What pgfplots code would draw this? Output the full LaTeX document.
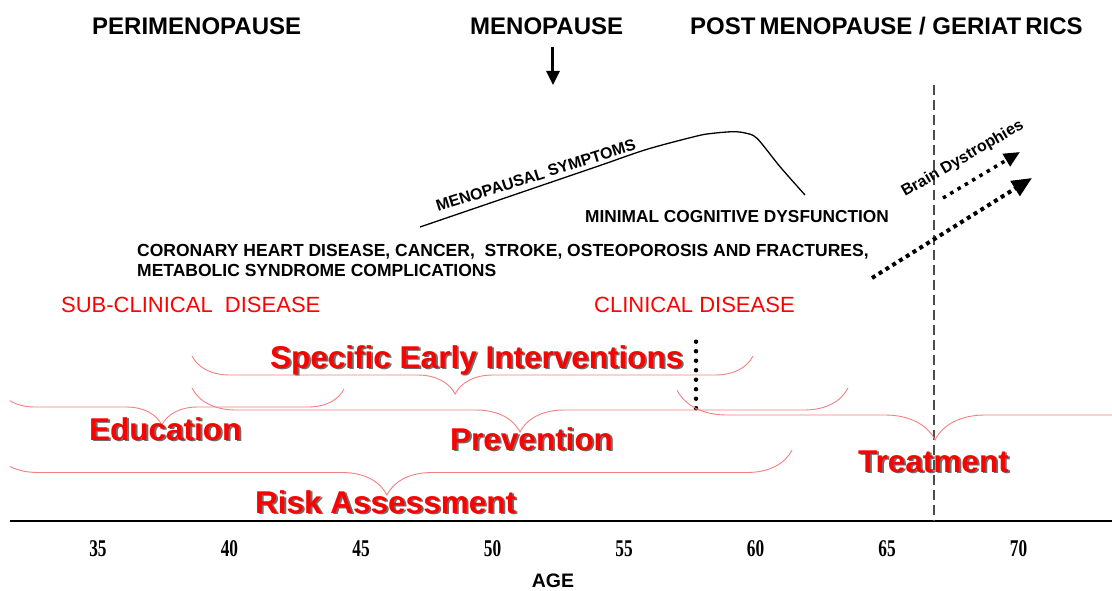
\documentclass[border=0pt]{standalone}
\usepackage{fontspec}
\setmainfont{Liberation Sans}
\newfontfamily\tickfont{Liberation Serif}[FakeStretch=0.72]
\usepackage{pgfplots}
\pgfplotsset{compat=1.18}
\usetikzlibrary{arrows.meta,decorations.pathreplacing}
\definecolor{bracered}{RGB}{244,128,128}
\definecolor{shadowgray}{RGB}{110,110,110}
\newcommand{\bigred}[3]{%
  \node[anchor=base west, inner sep=0pt, text=shadowgray, font=\bfseries\fontsize{31.5}{34}\selectfont, xshift=1.8pt, yshift=-1.8pt] at (axis cs:#1,#2) {#3};
  \node[anchor=base west, inner sep=0pt, text=red, font=\bfseries\fontsize{31.5}{34}\selectfont] at (axis cs:#1,#2) {#3};}
\begin{document}
\begin{tikzpicture}
\begin{axis}[
  scale only axis, width=1102pt, height=521pt,
  xmin=31.654, xmax=73.555, ymin=0, ymax=521,
  axis x line=bottom, axis y line=none,
  x axis line style={-, line width=1.4pt, black},
  xtick={35,40,45,50,55,60,65,70},
  xticklabels={35,40,45,50,55,60,65,70},
  major tick length=0pt,
  xticklabel style={font=\tickfont\bfseries\fontsize{24}{24}\selectfont, anchor=base, yshift=-35pt, inner sep=0pt},
  ytick=\empty,
  xlabel={AGE},
  xlabel style={at={(axis description cs:0.4927,0)}, anchor=base, yshift=-66pt, inner sep=0pt, font=\bfseries\fontsize{19.5}{20}\selectfont},
  clip=true,
]
\coordinate (BL) at (axis cs:31.274,-69);
\coordinate (TR) at (axis cs:73.555,521);

% phase headings
\node[anchor=base west, inner sep=0pt, font=\bfseries\fontsize{24}{26}\selectfont] at (axis cs:34.772,486.5) {PERIMENOPAUSE};
\node[anchor=base west, inner sep=0pt, font=\bfseries\fontsize{24}{26}\selectfont] at (axis cs:49.144,486.5) {MENOPAUSE};
\node[anchor=base west, inner sep=0pt, font=\bfseries\fontsize{24}{26}\selectfont] at (axis cs:57.510,486.5) {POST\kern4pt MENOPAUSE / GERIAT\kern4pt RICS};
\addplot[black, line width=3pt, -{Triangle[length=14pt,width=13pt]}] coordinates {(52.300,474) (52.300,436)};

% dashed vertical line
\addplot[black!70, line width=1.3pt, dash pattern=on 10pt off 5pt] coordinates {(66.787,436) (66.787,0)};

% menopausal symptoms curve
\addplot[black, line width=1.3pt, smooth, tension=0.5] coordinates {
  (47.243,294) (49.525,314.5) (51.806,335) (54.087,355.5) (55.875,371.7)
  (57.776,385) (58.384,387.7) (59.144,389.3) (59.601,388) (60.057,382.7)
  (60.932,354.3) (61.882,326)};
\node[anchor=base west, inner sep=0pt, rotate=17.5, font=\bfseries\fontsize{16}{18}\selectfont] at (axis cs:47.928,309) {MENOPAUSAL SYMPTOMS};

\node[anchor=base west, inner sep=0pt, font=\bfseries\fontsize{17.3}{19}\selectfont] at (axis cs:53.517,298.7) {MINIMAL COGNITIVE DYSFUNCTION};
\node[anchor=base west, inner sep=0pt, font=\bfseries\fontsize{17.5}{19}\selectfont] at (axis cs:36.483,265) {CORONARY HEART DISEASE, CANCER,\ \ STROKE, OSTEOPOROSIS AND FRACTURES,};
\node[anchor=base west, inner sep=0pt, font=\bfseries\fontsize{17.5}{19}\selectfont] at (axis cs:36.483,245) {METABOLIC SYNDROME COMPLICATIONS};

% brain dystrophies arrows
\addplot[black, line width=4pt, dash pattern=on 4pt off 4pt, -{Triangle[length=20pt,width=17pt]}] coordinates {(64.430,243) (70.513,343)};
\addplot[black, line width=3.5pt, dash pattern=on 3.5pt off 5pt, -{Triangle[length=16pt,width=14pt]}] coordinates {(67.129,323) (70.057,369)};
\node[anchor=base west, inner sep=0pt, rotate=30, font=\bfseries\fontsize{16}{17}\selectfont] at (axis cs:65.684,324) {Brain Dystrophies};

% red disease labels
\node[anchor=base west, inner sep=0pt, text=red, font=\fontsize{22}{24}\selectfont] at (axis cs:33.593,208.3) {SUB-CLINICAL\ \ DISEASE};
\node[anchor=base west, inner sep=0pt, text=red, font=\fontsize{22}{24}\selectfont] at (axis cs:53.859,208.3) {CLINICAL DISEASE};

% dotted vertical separator
\addplot[black, line width=4.5pt, line cap=round, dash pattern=on 0pt off 9.5pt] coordinates {(57.738,179.3) (57.738,112.7)};

% braces
\draw[bracered, line width=0.9pt, decorate, decoration={brace, mirror, amplitude=38pt, aspect=0.469}] (axis cs:38.574,165) -- (axis cs:59.905,165);
\draw[bracered, line width=0.9pt, decorate, decoration={brace, mirror, amplitude=44pt, aspect=0.5}] (axis cs:38.574,133) -- (axis cs:63.517,133);
\draw[bracered, line width=0.9pt, decorate, decoration={brace, mirror, amplitude=50pt, aspect=0.5}] (axis cs:57.015,131) -- (axis cs:76.635,131);
\draw[bracered, line width=0.9pt, decorate, decoration={brace, mirror, amplitude=36pt, aspect=0.472}] (axis cs:31.236,132) -- (axis cs:44.354,132);
\draw[bracered, line width=0.9pt, decorate, decoration={brace, mirror, amplitude=45pt, aspect=0.493}] (axis cs:31.008,71) -- (axis cs:61.388,71);

% big red labels
\bigred{41.540}{153}{Specific Early Interventions}
\bigred{34.658}{81}{Education}
\bigred{48.384}{71}{Prevention}
\bigred{40.970}{8}{Risk Assessment}
\bigred{63.897}{49}{Treatment}
\end{axis}
\pgfresetboundingbox
\path (BL) rectangle (TR);
\end{tikzpicture}
\end{document}
